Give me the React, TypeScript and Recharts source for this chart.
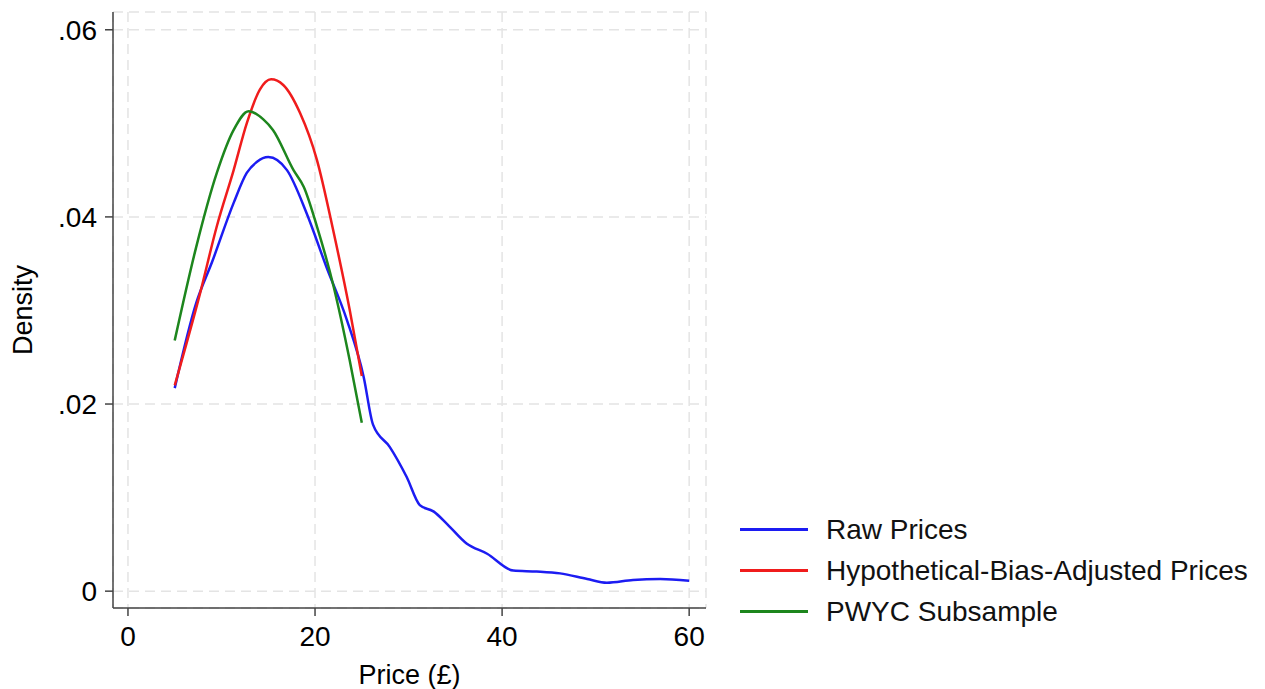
import React from 'react'
import { LineChart, Line, XAxis, YAxis, CartesianGrid, Legend } from 'recharts'

// kernel density estimates
const rawPrice = [5, 7.3, 9.0, 11.3, 12.7, 13.8, 15.0, 17.0, 19.1, 21.2, 23.4, 25.2, 26.2, 28.0, 29.8, 31.2, 32.7, 34.1, 36.2, 38.4, 41.2, 43.7, 46.2, 49.1, 51.2, 54.0, 56.9, 60]
const rawDensity = [0.0217, 0.0308, 0.0352, 0.0415, 0.0447, 0.0459, 0.0464, 0.045, 0.0404, 0.0347, 0.029, 0.0229, 0.0178, 0.0154, 0.0122, 0.0092, 0.0085, 0.0072, 0.0051, 0.004, 0.0022, 0.0021, 0.0019, 0.0013, 0.0009, 0.0012, 0.0013, 0.0011]

const adjPrice = [5, 7.7, 9.5, 11.3, 12.7, 14.1, 15.3, 16.6, 18.4, 20.2, 22.0, 23.7, 25]
const adjDensity = [0.022, 0.0318, 0.039, 0.045, 0.05, 0.0536, 0.0547, 0.0541, 0.0511, 0.0461, 0.0383, 0.0301, 0.023]

const pwycPrice = [5, 7.3, 9.5, 11.3, 12.9, 14.5, 15.5, 17.7, 18.8, 20.2, 22.0, 23.7, 25]
const pwycDensity = [0.0268, 0.0368, 0.0447, 0.0493, 0.0513, 0.0504, 0.0493, 0.045, 0.0432, 0.039, 0.0325, 0.0247, 0.018]

const xTicks = [0, 20, 40, 60]
const yTicks = [0, 0.02, 0.04, 0.06]

const SERIES = [
  { name: 'Raw Prices', color: '#1c1cf2', xs: rawPrice, ys: rawDensity },
  { name: 'Hypothetical-Bias-Adjusted Prices', color: '#f01c1c', xs: adjPrice, ys: adjDensity },
  { name: 'PWYC Subsample', color: '#1d861d', xs: pwycPrice, ys: pwycDensity },
]

const fmtY = (v: number) => (v === 0 ? '0' : v.toFixed(2).replace(/^0/, ''))

function LegendBox() {
  return (
    <div style={{ display: 'flex', flexDirection: 'column', gap: 14 }}>
      {SERIES.map(s => (
        <div key={s.name} style={{ display: 'flex', alignItems: 'center', height: 27 }}>
          <span style={{ width: 68, height: 2.5, background: s.color, marginRight: 18 }} />
          <span style={{ fontSize: 28, lineHeight: '27px', color: '#111', whiteSpace: 'nowrap' }}>{s.name}</span>
        </div>
      ))}
    </div>
  )
}

export default function App() {
  return (
    <div
      style={{
        position: 'absolute',
        left: 0,
        top: 0,
        width: 1265,
        height: 689,
        background: '#fff',
        fontFamily: '"Liberation Sans", Arial, sans-serif',
      }}
    >
      <LineChart width={1265} height={689} margin={{ top: 12, right: 559, bottom: 0, left: 0 }}>
        <CartesianGrid stroke="#e4e4e4" strokeDasharray="10 6" strokeWidth={1.5} />
        <XAxis
          type="number"
          dataKey="x"
          domain={[-1.6, 61.8]}
          ticks={xTicks}
          allowDataOverflow
          height={81}
          tickSize={8}
          tickMargin={10}
          tick={{ fontSize: 28, fill: '#000' }}
          axisLine={{ stroke: '#444', strokeWidth: 1.5 }}
          tickLine={{ stroke: '#444', strokeWidth: 1.5 }}
          label={{ value: 'Price (£)', position: 'insideBottom', offset: 5, fontSize: 27, fill: '#000' }}
        />
        <YAxis
          type="number"
          domain={[-0.0018, 0.0619]}
          ticks={yTicks}
          allowDataOverflow
          width={113}
          tickSize={8}
          tickMargin={8}
          tickFormatter={fmtY}
          tick={{ fontSize: 28, fill: '#000' }}
          axisLine={{ stroke: '#444', strokeWidth: 1.5 }}
          tickLine={{ stroke: '#444', strokeWidth: 1.5 }}
          label={{ value: 'Density', angle: -90, position: 'insideLeft', offset: 22, fontSize: 27, fill: '#000', style: { textAnchor: 'middle' } }}
        />
        <Legend
          layout="vertical"
          align="center"
          verticalAlign="middle"
          content={<LegendBox />}
          wrapperStyle={{ left: 740, top: 516, width: 520 }}
        />
        {SERIES.map(s => (
          <Line
            key={s.name}
            name={s.name}
            data={s.xs.map((x, i) => ({ x, y: s.ys[i] }))}
            dataKey="y"
            type="monotone"
            stroke={s.color}
            strokeWidth={2.5}
            dot={false}
            activeDot={false}
            isAnimationActive={false}
          />
        ))}
      </LineChart>
    </div>
  )
}
